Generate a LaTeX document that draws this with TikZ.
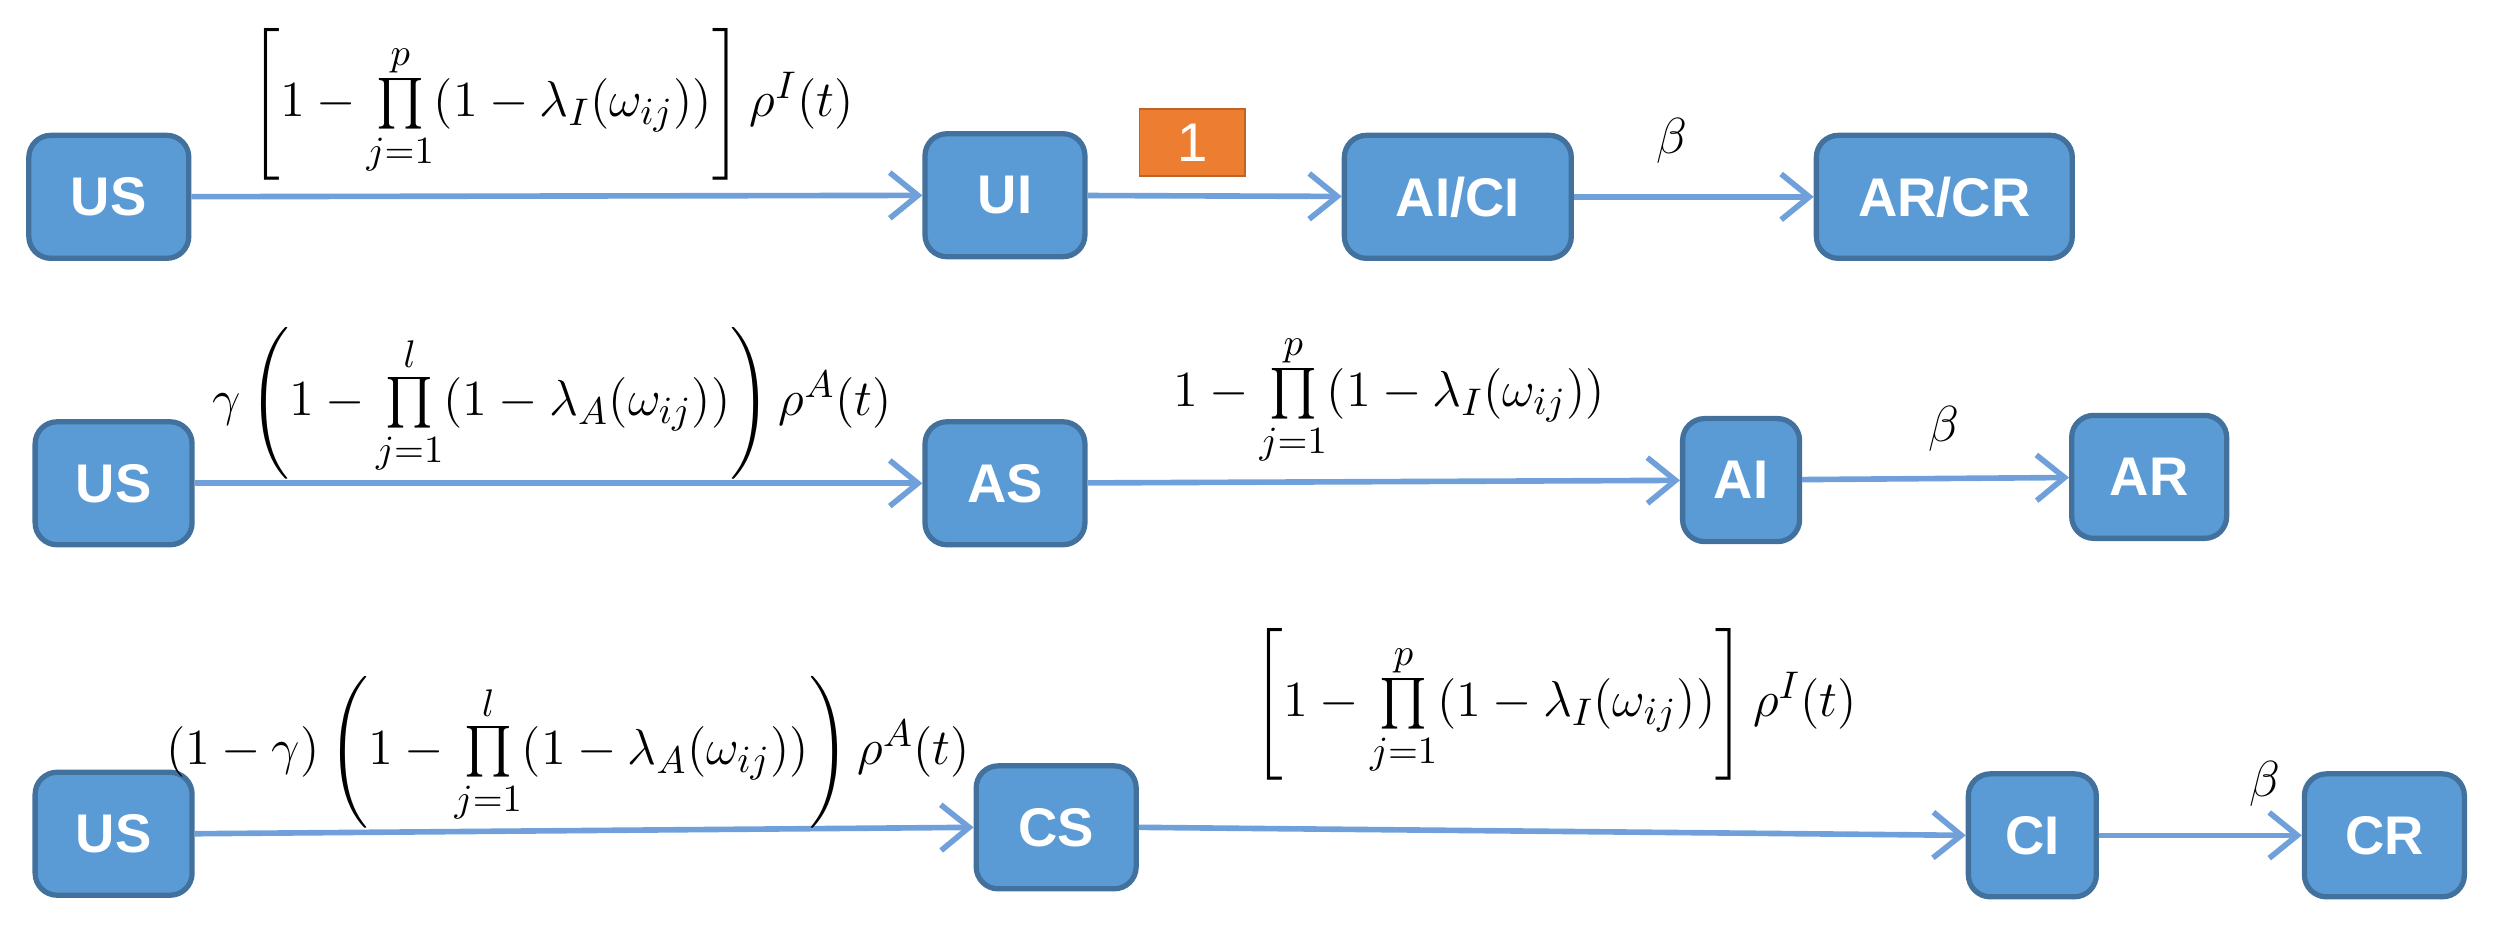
\documentclass[tikz,border=0pt]{standalone}
\usepackage{fontspec}
\setmainfont{Liberation Sans}
\usepackage{amsmath}
\usetikzlibrary{arrows.meta}
\definecolor{boxfill}{HTML}{5B9BD5}
\definecolor{boxline}{HTML}{41719C}
\definecolor{arr}{HTML}{6FA0DA}
\definecolor{org}{HTML}{ED7D31}
\newcommand{\bigfs}{\fontsize{15.5}{18}\selectfont}
\tikzset{
  box/.style={draw=boxline,line width=1.5pt,fill=boxfill,rounded corners=0.22cm,text=white,font=\bfseries\bigfs,minimum height=1.23cm,inner sep=0pt},
  lab/.style={font=\bigfs},
  conn/.style={draw=arr,line width=1.6pt,-{Straight Barb[length=8pt,width=13pt]}}
}
\begin{document}
\begin{tikzpicture}[x=0.016cm,y=-0.016cm]
\useasboundingbox (0,0) rectangle (1566,582);
% row 1
\node[box,minimum width=1.6cm] (us1) at (68,123) {US};
\node[box,minimum width=1.6cm] (ui) at (628,122) {UI};
\node[box,minimum width=2.27cm] (aici) at (911,123) {AI/CI};
\node[box,minimum width=2.56cm] (arcr) at (1215,123) {AR/CR};
\node[fill=org,draw=org!80!black,text=white,font=\bigfs,minimum width=1.06cm,minimum height=0.67cm,inner sep=0pt] (one) at (745,89) {1};
\draw[conn] (us1) -- (ui);
\draw[conn] (ui) -- (aici);
\draw[conn] (aici) -- (arcr);
\node[lab] (f1) at (345,65) {$\left[1-\prod\limits_{j=1}^{p}(1-\lambda_I(\omega_{ij}))\right]\rho^I(t)$};
\node[lab] (b1) at (1045,88) {$\beta$};
% row 2
\node[box,minimum width=1.57cm] (us2) at (71,302) {US};
\node[box,minimum width=1.6cm] (as) at (628,302) {AS};
\node[box,minimum width=1.17cm] (ai) at (1088,300) {AI};
\node[box,minimum width=1.55cm] (ar) at (1343,298) {AR};
\draw[conn] (us2) -- (as);
\draw[conn] (as) -- (ai);
\draw[conn] (ai) -- (ar);
\node[lab] (f2) at (345,252) {$\gamma\left(1-\prod\limits_{j=1}^{l}(1-\lambda_A(\omega_{ij}))\right)\rho^A(t)$};
\node[lab] (f3) at (868,250) {$1-\prod\limits_{j=1}^{p}(1-\lambda_I(\omega_{ij}))$};
\node[lab] (b2) at (1215,268) {$\beta$};
% row 3
\node[box,minimum width=1.57cm] (us3) at (71,521) {US};
\node[box,minimum width=1.6cm] (cs) at (660,517) {CS};
\node[box,minimum width=1.28cm] (ci) at (1270,522) {CI};
\node[box,minimum width=1.6cm] (cr) at (1490,522) {CR};
\draw[conn] (us3.east) -- (cs.west);
\draw[conn] (cs.east) -- (ci.west);
\draw[conn] (ci) -- (cr);
\node[lab] (f4) at (355,470) {$(1-\gamma)\left(1-\prod\limits_{j=1}^{l}(1-\lambda_A(\omega_{ij}))\right)\rho^A(t)$};
\node[lab] (f5) at (972,440) {$\left[1-\prod\limits_{j=1}^{p}(1-\lambda_I(\omega_{ij}))\right]\rho^I(t)$};
\node[lab] (b3) at (1415,490) {$\beta$};
\end{tikzpicture}
\end{document}
